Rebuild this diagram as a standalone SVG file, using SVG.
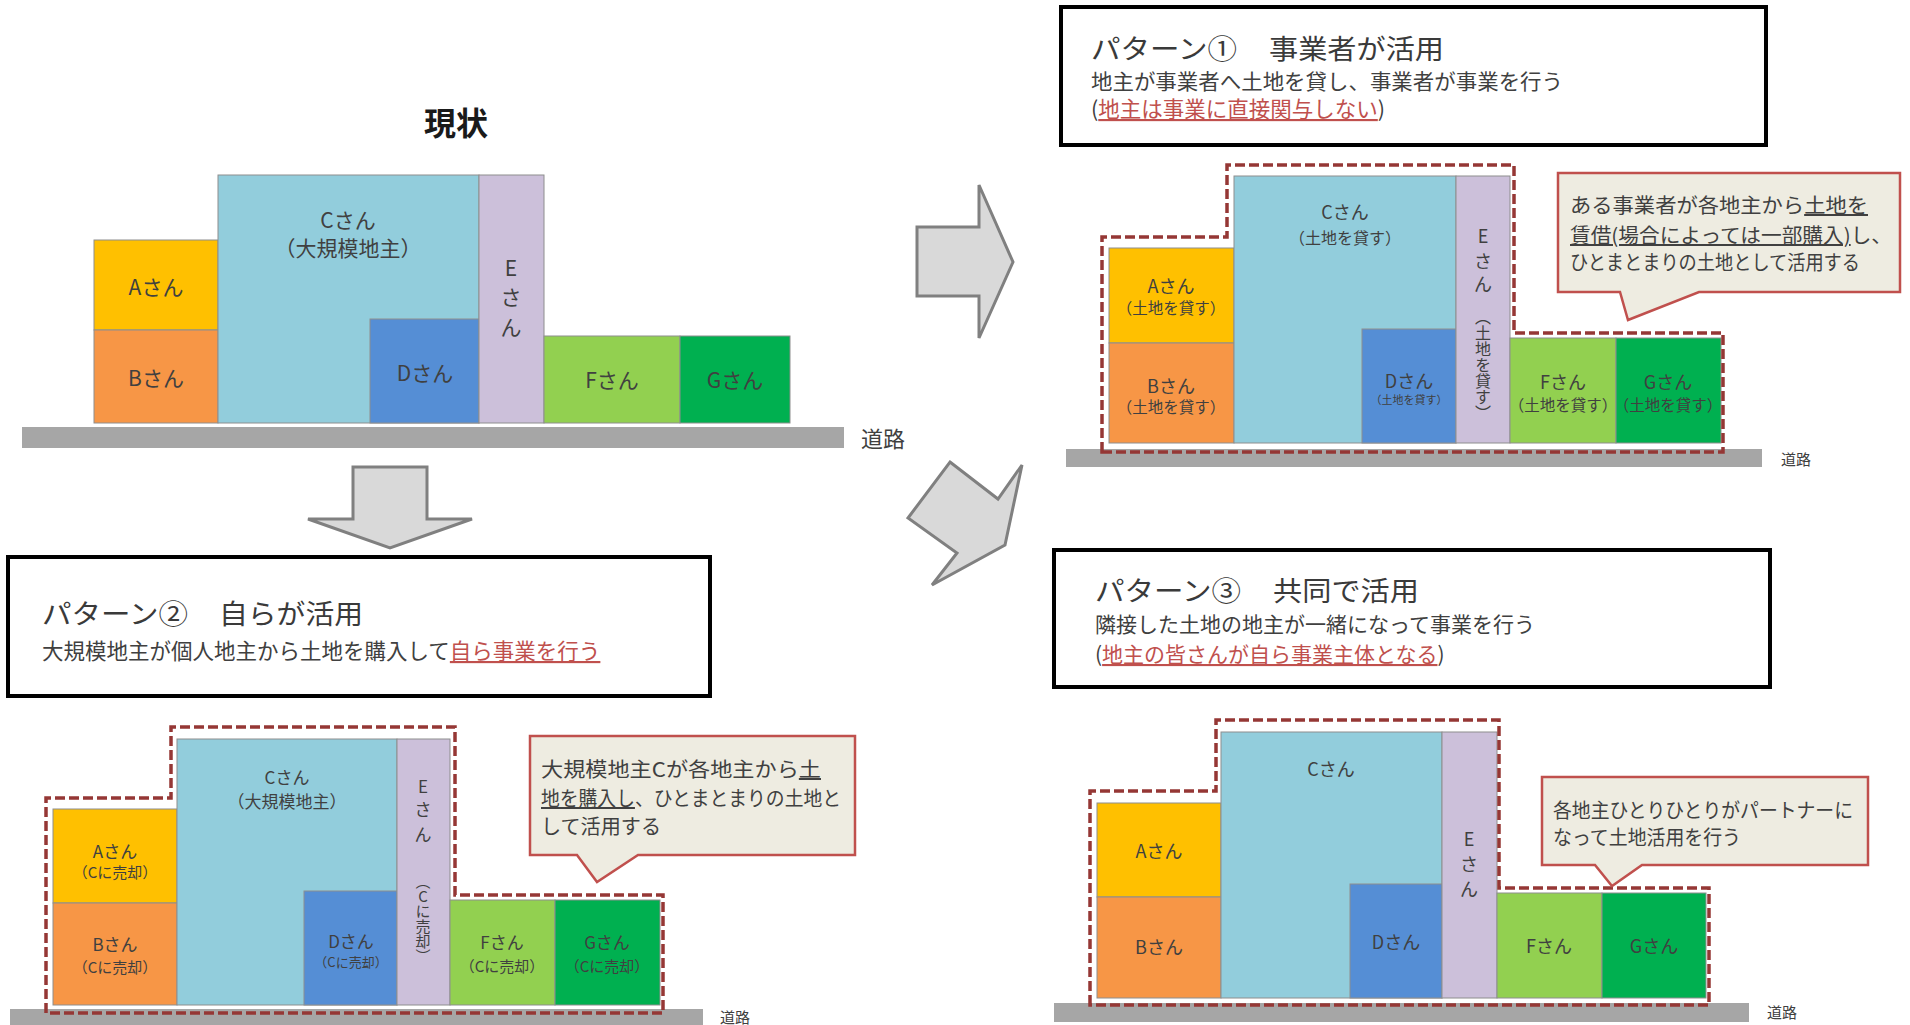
<svg xmlns="http://www.w3.org/2000/svg" width="1910" height="1025" viewBox="0 0 1910 1025">
<style>
text{font-family:"Noto Sans CJK JP","Noto Sans",sans-serif;fill:#404040}
.t{text-anchor:middle}
.vt{writing-mode:vertical-rl;text-orientation:upright}
.a{fill:#FFC000}.b{fill:#F79646}.c{fill:#92CDDC}.d{fill:#558ED5}.e{fill:#CCC0DA}.f{fill:#92D050}.g{fill:#00B050}
.lot{stroke:#8E8E8E;stroke-width:1}
.road{fill:#A6A6A6}
.dash{fill:none;stroke:#953735;stroke-width:3.5;stroke-dasharray:10 4}
.pbox{fill:#fff;stroke:#000;stroke-width:4}
.call{fill:#EEECE1;stroke:#C0504D;stroke-width:2.5}
.arrow{fill:#D9D9D9;stroke:#808080;stroke-width:3;stroke-linejoin:miter}
.red{fill:#C0504D;text-decoration:underline}
.ul{text-decoration:underline}
.ttl{font-size:27px;fill:#3a3a3a}
</style>

<!-- ===== Current state ===== -->
<g id="current">
<text x="456" y="135" class="t" font-size="32" font-weight="bold" style="fill:#1a1a1a">現状</text>
<rect x="22" y="427" width="822" height="21" class="road"/>
<text x="861" y="447" font-size="22">道路</text>
<g id="cur-A"><rect x="94" y="240" width="124" height="90" class="a lot"/><text x="156" y="295" class="t" font-size="21">Aさん</text></g>
<g id="cur-B"><rect x="94" y="330" width="124" height="93" class="b lot"/><text x="156" y="386" class="t" font-size="21">Bさん</text></g>
<g id="cur-C"><rect x="218" y="175" width="261" height="248" class="c lot"/><text x="348" y="228" class="t" font-size="21">Cさん</text><text x="348" y="256" class="t" font-size="21">（大規模地主）</text></g>
<g id="cur-D"><rect x="370" y="319" width="109" height="104" class="d lot"/><text x="425" y="381" class="t" font-size="21">Dさん</text></g>
<g id="cur-E"><rect x="479" y="175" width="65" height="248" class="e lot"/><text class="t" font-size="21"><tspan x="511" y="276">E</tspan><tspan x="511" y="305">さ</tspan><tspan x="511" y="335">ん</tspan></text></g>
<g id="cur-F"><rect x="544" y="336" width="136" height="87" class="f lot"/><text x="612" y="388" class="t" font-size="21">Fさん</text></g>
<g id="cur-G"><rect x="680" y="336" width="110" height="87" class="g lot"/><text x="735" y="388" class="t" font-size="21">Gさん</text></g>
</g>

<!-- ===== Connectors (block arrows) ===== -->
<g id="connectors">
<polygon class="arrow" points="353,467 427,467 427,519 472,519 390,548 308,519 353,519"/>
<polygon class="arrow" points="917,227 979,227 979,185 1013,262 979,338 979,296 917,296"/>
<polygon class="arrow" points="950,462 998,499 1022,465 1005,545 932,585 957,553 908,518"/>
</g>

<!-- ===== Pattern 1 ===== -->
<g id="p1-header">
<rect x="1061" y="7" width="705" height="138" class="pbox"/>
<text x="1091" y="59" class="ttl" textLength="146" lengthAdjust="spacingAndGlyphs">パターン①</text>
<text x="1269" y="59" class="ttl" textLength="175" lengthAdjust="spacingAndGlyphs">事業者が活用</text>
<text x="1091" y="89" font-size="21" textLength="472" lengthAdjust="spacingAndGlyphs">地主が事業者へ土地を貸し、事業者が事業を行う</text>
<text x="1091" y="117" font-size="21.5">(<tspan class="red">地主は事業に直接関与しない</tspan>)</text>
</g>
<g id="p1-diagram">
<rect x="1066" y="449" width="696" height="18" class="road"/>
<text x="1781" y="465" font-size="15">道路</text>
<g id="p1-A"><rect x="1109" y="248" width="125" height="95" class="a lot"/><text x="1171" y="293" class="t" font-size="18">Aさん</text><text x="1171" y="314" class="t" font-size="15.5">（土地を貸す）</text></g>
<g id="p1-B"><rect x="1109" y="343" width="125" height="100" class="b lot"/><text x="1171" y="393" class="t" font-size="18">Bさん</text><text x="1171" y="413" class="t" font-size="15.5">（土地を貸す）</text></g>
<g id="p1-C"><rect x="1234" y="176" width="222" height="267" class="c lot"/><text x="1345" y="219" class="t" font-size="18">Cさん</text><text x="1345" y="244" class="t" font-size="16">（土地を貸す）</text></g>
<g id="p1-D"><rect x="1362" y="329" width="94" height="114" class="d lot"/><text x="1409" y="388" class="t" font-size="18">Dさん</text><text x="1409" y="404" class="t" font-size="11">（土地を貸す）</text></g>
<g id="p1-E"><rect x="1456" y="176" width="54" height="267" class="e lot"/>
<text class="t" font-size="18"><tspan x="1483" y="243">E</tspan><tspan x="1483" y="268">さ</tspan><tspan x="1483" y="291">ん</tspan></text>
<text x="1483" y="309" class="vt" font-size="16">（土地を貸す）</text>
</g>
<g id="p1-F"><rect x="1510" y="338" width="106" height="105" class="f lot"/><text x="1563" y="389" class="t" font-size="18">Fさん</text><text x="1563" y="411" class="t" font-size="15.5">（土地を貸す）</text></g>
<g id="p1-G"><rect x="1616" y="338" width="105" height="105" class="g lot"/><text x="1668" y="389" class="t" font-size="18">Gさん</text><text x="1668" y="411" class="t" font-size="15.5">（土地を貸す）</text></g>
<path class="dash" d="M1102,452 V237 H1227 V165 H1514 V333 H1723 V452 Z"/>
</g>
<g id="p1-callout">
<path class="call" d="M1558,173 H1900 V292 H1699 L1628,320 L1620,292 H1558 Z"/>
<text x="1570" y="213" font-size="20" textLength="298" lengthAdjust="spacingAndGlyphs">ある事業者が各地主から<tspan class="ul">土地を</tspan></text>
<text x="1570" y="243" font-size="20" textLength="322" lengthAdjust="spacingAndGlyphs"><tspan class="ul">賃借(場合によっては一部購入)</tspan>し、</text>
<text x="1570" y="270" font-size="20" textLength="290" lengthAdjust="spacingAndGlyphs">ひとまとまりの土地として活用する</text>
</g>

<!-- ===== Pattern 2 ===== -->
<g id="p2-header">
<rect x="8" y="557" width="702" height="139" class="pbox"/>
<text x="42" y="624" class="ttl" textLength="146" lengthAdjust="spacingAndGlyphs">パターン②</text>
<text x="219" y="624" class="ttl" textLength="144" lengthAdjust="spacingAndGlyphs">自らが活用</text>
<text x="42" y="659" font-size="21.5">大規模地主が個人地主から土地を購入して<tspan class="red">自ら事業を行う</tspan></text>
</g>
<g id="p2-diagram">
<rect x="10" y="1009" width="693" height="16" class="road"/>
<text x="720" y="1023" font-size="15">道路</text>
<g id="p2-A"><rect x="53" y="809" width="124" height="94" class="a lot"/><text x="115" y="858" class="t" font-size="17">Aさん</text><text x="115" y="878" class="t" font-size="15">（Cに売却）</text></g>
<g id="p2-B"><rect x="53" y="903" width="124" height="102" class="b lot"/><text x="115" y="951" class="t" font-size="17">Bさん</text><text x="115" y="973" class="t" font-size="15">（Cに売却）</text></g>
<g id="p2-C"><rect x="177" y="739" width="220" height="266" class="c lot"/><text x="287" y="784" class="t" font-size="17">Cさん</text><text x="287" y="808" class="t" font-size="17">（大規模地主）</text></g>
<g id="p2-D"><rect x="304" y="891" width="93" height="114" class="d lot"/><text x="351" y="948" class="t" font-size="17">Dさん</text><text x="351" y="967" class="t" font-size="13">（Cに売却）</text></g>
<g id="p2-E"><rect x="397" y="739" width="53" height="266" class="e lot"/>
<text class="t" font-size="17"><tspan x="423" y="793">E</tspan><tspan x="423" y="816">さ</tspan><tspan x="423" y="841">ん</tspan></text>
<text x="423" y="874" class="vt" font-size="15">（Cに売却）</text>
</g>
<g id="p2-F"><rect x="450" y="900" width="105" height="105" class="f lot"/><text x="502" y="949" class="t" font-size="17">Fさん</text><text x="502" y="972" class="t" font-size="15">（Cに売却）</text></g>
<g id="p2-G"><rect x="555" y="900" width="105" height="105" class="g lot"/><text x="607" y="949" class="t" font-size="17">Gさん</text><text x="607" y="972" class="t" font-size="15">（Cに売却）</text></g>
<path class="dash" d="M46,1013 V798 H171 V727 H455 V895 H663 V1013 Z"/>
</g>
<g id="p2-callout">
<path class="call" d="M530,736 H855 V855 H638 L597,882 L577,855 H530 Z"/>
<text x="541" y="777" font-size="20" textLength="280" lengthAdjust="spacingAndGlyphs">大規模地主Cが各地主から<tspan class="ul">土</tspan></text>
<text x="541" y="806" font-size="20" textLength="300" lengthAdjust="spacingAndGlyphs"><tspan class="ul">地を購入し</tspan>、ひとまとまりの土地と</text>
<text x="541" y="834" font-size="20" textLength="120" lengthAdjust="spacingAndGlyphs">して活用する</text>
</g>

<!-- ===== Pattern 3 ===== -->
<g id="p3-header">
<rect x="1054" y="550" width="716" height="137" class="pbox"/>
<text x="1095" y="601" class="ttl" textLength="146" lengthAdjust="spacingAndGlyphs">パターン③</text>
<text x="1273" y="601" class="ttl" textLength="146" lengthAdjust="spacingAndGlyphs">共同で活用</text>
<text x="1095" y="632" font-size="21">隣接した土地の地主が一緒になって事業を行う</text>
<text x="1095" y="662" font-size="21">(<tspan class="red">地主の皆さんが自ら事業主体となる</tspan>)</text>
</g>
<g id="p3-diagram">
<rect x="1054" y="1003" width="695" height="19" class="road"/>
<text x="1767" y="1018" font-size="15">道路</text>
<g id="p3-A"><rect x="1097" y="803" width="124" height="94" class="a lot"/><text x="1159" y="858" class="t" font-size="18">Aさん</text></g>
<g id="p3-B"><rect x="1097" y="897" width="124" height="101" class="b lot"/><text x="1159" y="954" class="t" font-size="18">Bさん</text></g>
<g id="p3-C"><rect x="1221" y="732" width="221" height="266" class="c lot"/><text x="1331" y="776" class="t" font-size="18">Cさん</text></g>
<g id="p3-D"><rect x="1350" y="884" width="92" height="114" class="d lot"/><text x="1396" y="949" class="t" font-size="18">Dさん</text></g>
<g id="p3-E"><rect x="1442" y="732" width="55" height="266" class="e lot"/><text class="t" font-size="18"><tspan x="1469" y="846">E</tspan><tspan x="1469" y="871">さ</tspan><tspan x="1469" y="896">ん</tspan></text></g>
<g id="p3-F"><rect x="1497" y="893" width="105" height="105" class="f lot"/><text x="1549" y="953" class="t" font-size="18">Fさん</text></g>
<g id="p3-G"><rect x="1602" y="893" width="104" height="105" class="g lot"/><text x="1654" y="953" class="t" font-size="18">Gさん</text></g>
<path class="dash" d="M1090,1005 V791 H1216 V720 H1499 V888 H1709 V1005 Z"/>
</g>
<g id="p3-callout">
<path class="call" d="M1542,777 H1868 V865 H1642 L1612,886 L1595,865 H1542 Z"/>
<text x="1553" y="818" font-size="20" textLength="300" lengthAdjust="spacingAndGlyphs">各地主ひとりひとりがパートナーに</text>
<text x="1553" y="845" font-size="20" textLength="188" lengthAdjust="spacingAndGlyphs">なって土地活用を行う</text>
</g>
</svg>
